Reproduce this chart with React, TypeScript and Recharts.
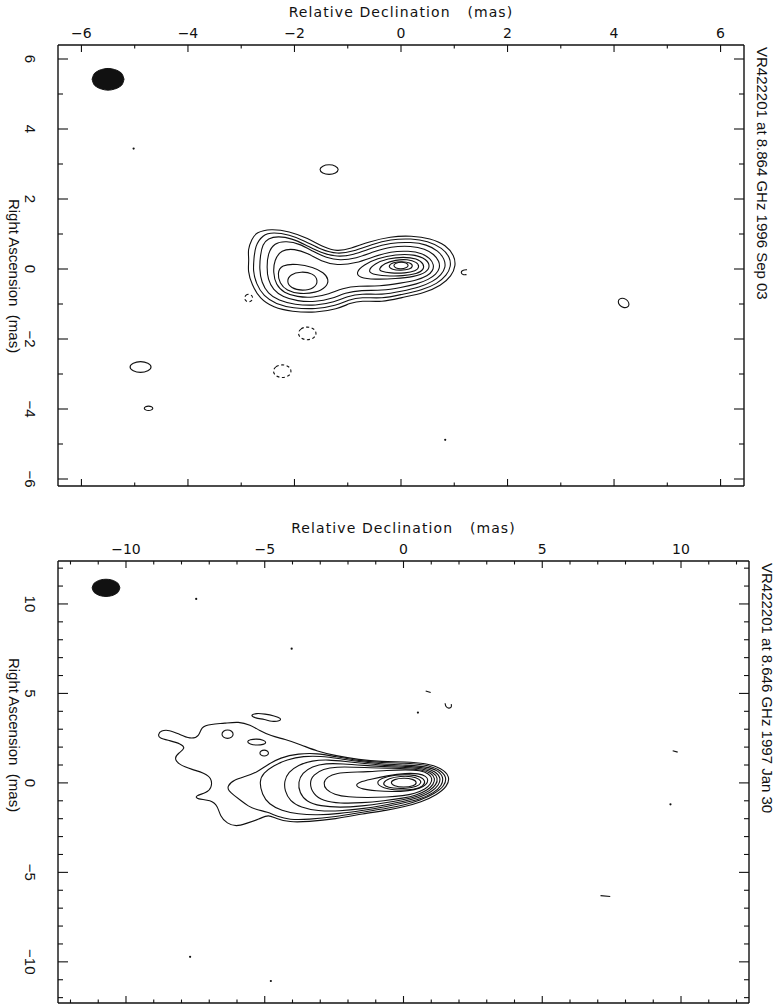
import React from "react";
import { Area, ComposedChart, Line, XAxis, YAxis } from "recharts";

type Pt = [number, number];
type Contour = { pts: Pt[]; dashed?: boolean; open?: boolean };

const INK = "#111";
const HERSHEY = "'DejaVu Sans', sans-serif";
const HELV = "'Liberation Sans', Arial, sans-serif";

// ---------- top map: 1996 Sep 03 (axes in mas) ----------
const topTitle = "VR422201 at 8.864 GHz 1996 Sep 03";
const topDecTicks = [-6, -5, -4, -3, -2, -1, 0, 1, 2, 3, 4, 5, 6];
const topRaTicks = [-6, -5, -4, -3, -2, -1, 0, 1, 2, 3, 4, 5, 6];

// beam: [dec, ra low, ra high]
const topBeam = [
  [-5.8, 5.42, 5.42], [-5.77, 5.285, 5.555], [-5.71, 5.2, 5.64], [-5.62, 5.14, 5.7],
  [-5.5, 5.11, 5.73], [-5.38, 5.14, 5.7], [-5.29, 5.2, 5.64], [-5.23, 5.285, 5.555], [-5.2, 5.42, 5.42],
];

// contours that wrap both components
const topC1: Pt[] = [
  [-2.72, 1.05], [-2.45, 1.15], [-2.1, 1.08], [-1.75, 0.88], [-1.45, 0.62], [-1.2, 0.5], [-0.95, 0.58],
  [-0.6, 0.78], [-0.2, 0.93], [0.2, 0.95], [0.55, 0.88], [0.85, 0.68], [1.0, 0.38], [1.03, 0.1],
  [0.95, -0.2], [0.75, -0.48], [0.45, -0.68], [0.0, -0.82], [-0.35, -0.95], [-0.75, -0.9], [-0.95, -0.97],
  [-1.2, -1.15], [-1.6, -1.25], [-2.05, -1.22], [-2.4, -1.1], [-2.65, -0.85], [-2.8, -0.45],
  [-2.88, -0.05], [-2.85, 0.25], [-2.88, 0.55], [-2.8, 0.85],
];
const topC2: Pt[] = [
  [-2.6, 0.98], [-2.4, 1.05], [-2.1, 0.98], [-1.8, 0.8], [-1.5, 0.55], [-1.2, 0.42], [-0.9, 0.5],
  [-0.55, 0.7], [-0.2, 0.85], [0.2, 0.87], [0.5, 0.8], [0.78, 0.6], [0.92, 0.33], [0.94, 0.08],
  [0.86, -0.18], [0.68, -0.42], [0.4, -0.6], [0.0, -0.73], [-0.35, -0.85], [-0.75, -0.8], [-0.98, -0.88],
  [-1.22, -1.05], [-1.6, -1.15], [-2.03, -1.12], [-2.35, -1.0], [-2.58, -0.78], [-2.72, -0.42],
  [-2.78, -0.05], [-2.76, 0.3], [-2.74, 0.65],
];
const topC3: Pt[] = [
  [-2.5, 0.88], [-2.3, 0.94], [-2.05, 0.87], [-1.8, 0.7], [-1.5, 0.46], [-1.2, 0.34], [-0.9, 0.4],
  [-0.55, 0.6], [-0.2, 0.75], [0.2, 0.77], [0.48, 0.7], [0.7, 0.52], [0.82, 0.28], [0.84, 0.05],
  [0.76, -0.16], [0.6, -0.36], [0.35, -0.52], [0.0, -0.64], [-0.35, -0.74], [-0.75, -0.7], [-1.0, -0.78],
  [-1.25, -0.95], [-1.6, -1.05], [-2.0, -1.02], [-2.3, -0.9], [-2.5, -0.7], [-2.62, -0.38],
  [-2.66, 0.0], [-2.64, 0.4], [-2.6, 0.7],
];
const topC4: Pt[] = [
  [-2.38, 0.75], [-2.15, 0.8], [-1.9, 0.72], [-1.65, 0.5], [-1.4, 0.32], [-1.15, 0.24], [-0.85, 0.3],
  [-0.5, 0.5], [-0.2, 0.64], [0.2, 0.66], [0.45, 0.58], [0.62, 0.42], [0.72, 0.22], [0.73, 0.02],
  [0.66, -0.15], [0.52, -0.3], [0.3, -0.43], [0.0, -0.53], [-0.35, -0.62], [-0.75, -0.6], [-1.05, -0.68],
  [-1.3, -0.85], [-1.6, -0.94], [-1.95, -0.92], [-2.22, -0.8], [-2.4, -0.6], [-2.5, -0.3],
  [-2.52, 0.05], [-2.5, 0.45],
];
const topC5: Pt[] = [
  [-2.25, 0.55], [-2.0, 0.58], [-1.75, 0.45], [-1.5, 0.22], [-1.2, 0.1], [-0.85, 0.16], [-0.5, 0.36],
  [-0.2, 0.5], [0.15, 0.52], [0.4, 0.45], [0.55, 0.3], [0.62, 0.12], [0.6, -0.05], [0.5, -0.2],
  [0.3, -0.32], [0.0, -0.4], [-0.4, -0.5], [-0.8, -0.48], [-1.1, -0.55], [-1.35, -0.72], [-1.65, -0.82],
  [-1.95, -0.8], [-2.2, -0.68], [-2.35, -0.45], [-2.4, -0.1], [-2.38, 0.25],
];
// south-east component
const topL1: Pt[] = [
  [-2.25, 0.12], [-1.95, 0.15], [-1.65, 0.05], [-1.45, -0.1], [-1.35, -0.3], [-1.4, -0.52],
  [-1.6, -0.68], [-1.9, -0.72], [-2.15, -0.62], [-2.28, -0.4], [-2.32, -0.12],
];
const topL2: Pt[] = [
  [-2.15, -0.35], [-2.08, -0.15], [-1.88, -0.07], [-1.65, -0.12], [-1.55, -0.33], [-1.62, -0.55],
  [-1.85, -0.63], [-2.07, -0.55],
];
// core
const topR1: Pt[] = [
  [-0.85, -0.1], [-0.7, 0.12], [-0.45, 0.3], [-0.1, 0.42], [0.25, 0.42], [0.48, 0.28], [0.55, 0.08],
  [0.48, -0.1], [0.25, -0.22], [-0.1, -0.28], [-0.5, -0.3], [-0.78, -0.25],
];
const topR2: Pt[] = [
  [-0.62, -0.05], [-0.5, 0.15], [-0.25, 0.3], [0.05, 0.35], [0.3, 0.3], [0.43, 0.15], [0.43, -0.02],
  [0.3, -0.14], [0.05, -0.2], [-0.3, -0.2], [-0.55, -0.15],
];
const topR3: Pt[] = [
  [-0.42, 0.0], [-0.32, 0.16], [-0.1, 0.26], [0.12, 0.28], [0.3, 0.2], [0.35, 0.06], [0.28, -0.06],
  [0.08, -0.12], [-0.2, -0.12], [-0.38, -0.07],
];
const topR4: Pt[] = [
  [-0.25, 0.08], [-0.15, 0.19], [0.02, 0.22], [0.18, 0.18], [0.23, 0.08], [0.17, -0.01], [0.0, -0.04], [-0.17, -0.02],
];
const topR5: Pt[] = [
  [-0.15, 0.1], [-0.1, 0.17], [0.0, 0.2], [0.1, 0.18], [0.15, 0.1], [0.1, 0.03], [0.0, 0.0], [-0.1, 0.02],
];
// isolated islands
const topBlobA: Pt[] = [[-1.54, 2.84], [-1.48, 2.95], [-1.35, 2.99], [-1.22, 2.95], [-1.16, 2.84], [-1.22, 2.73], [-1.35, 2.69], [-1.48, 2.73]];
const topBlobB: Pt[] = [[-5.11, -2.8], [-5.04, -2.68], [-4.89, -2.63], [-4.74, -2.68], [-4.67, -2.8], [-4.74, -2.92], [-4.89, -2.97], [-5.04, -2.92]];
const topBlobC: Pt[] = [[-4.83, -3.98], [-4.8, -3.93], [-4.74, -3.91], [-4.68, -3.93], [-4.65, -3.98], [-4.68, -4.03], [-4.74, -4.05], [-4.8, -4.03]];
const topBlobD: Pt[] = [[4.07, -0.93], [4.1, -0.84], [4.19, -0.83], [4.26, -0.9], [4.29, -1.01], [4.26, -1.1], [4.17, -1.11], [4.1, -1.04]];
const topNegA: Pt[] = [[-1.94, -1.84], [-1.89, -1.7], [-1.76, -1.64], [-1.63, -1.7], [-1.58, -1.84], [-1.63, -1.98], [-1.76, -2.04], [-1.89, -1.98]];
const topNegB: Pt[] = [[-2.41, -2.92], [-2.36, -2.78], [-2.23, -2.72], [-2.1, -2.78], [-2.05, -2.92], [-2.1, -3.06], [-2.23, -3.12], [-2.36, -3.06]];
const topNegC: Pt[] = [[-2.94, -0.83], [-2.92, -0.75], [-2.86, -0.71], [-2.8, -0.75], [-2.78, -0.83], [-2.8, -0.91], [-2.86, -0.95], [-2.92, -0.91]];
const topHook: Pt[] = [[1.24, -0.02], [1.15, -0.03], [1.12, -0.1], [1.16, -0.17], [1.23, -0.16]];
const topSpecks: Pt[] = [[-5.02, 3.44], [0.83, -4.88]];

const topContours: Contour[] = [
  { pts: topC1 }, { pts: topC2 }, { pts: topC3 }, { pts: topC4 }, { pts: topC5 },
  { pts: topL1 }, { pts: topL2 },
  { pts: topR1 }, { pts: topR2 }, { pts: topR3 }, { pts: topR4 }, { pts: topR5 },
  { pts: topBlobA }, { pts: topBlobB }, { pts: topBlobC }, { pts: topBlobD },
  { pts: topNegA, dashed: true }, { pts: topNegB, dashed: true }, { pts: topNegC, dashed: true },
  { pts: topHook, open: true },
];

// ---------- bottom map: 1997 Jan 30 ----------
const botTitle = "VR422201 at 8.646 GHz 1997 Jan 30";
const botDecTicks = [-12, -11, -10, -9, -8, -7, -6, -5, -4, -3, -2, -1, 0, 1, 2, 3, 4, 5, 6, 7, 8, 9, 10, 11, 12];
const botRaTicks = [-12, -11, -10, -9, -8, -7, -6, -5, -4, -3, -2, -1, 0, 1, 2, 3, 4, 5, 6, 7, 8, 9, 10, 11, 12];

const botBeam = [
  [-11.22, 10.9, 10.9], [-11.17, 10.69, 11.11], [-11.07, 10.56, 11.24], [-10.92, 10.46, 11.34],
  [-10.72, 10.42, 11.38], [-10.52, 10.46, 11.34], [-10.37, 10.56, 11.24], [-10.27, 10.69, 11.11], [-10.22, 10.9, 10.9],
];

const botO1: Pt[] = [
  [-8.85, 2.69], [-8.74, 2.93], [-8.44, 2.96], [-8.1, 2.74], [-7.69, 2.44], [-7.35, 2.59], [-7.3, 3.15],
  [-6.94, 3.28], [-6.44, 3.33], [-5.94, 3.43], [-5.52, 3.24], [-5.19, 2.93], [-4.78, 2.63], [-4.28, 2.44],
  [-3.69, 2.13], [-3.11, 1.76], [-2.45, 1.52], [-1.61, 1.3], [-0.78, 1.18], [0.05, 1.18], [0.8, 1.1],
  [1.38, 0.82], [1.68, 0.35], [1.58, -0.19], [1.2, -0.67], [0.63, -1.08], [0.05, -1.32], [-0.62, -1.54],
  [-1.45, -1.72], [-2.45, -2.02], [-3.44, -2.17], [-4.11, -2.2], [-4.61, -2.0], [-4.86, -1.76],
  [-5.19, -2.02], [-5.69, -2.28], [-6.02, -2.44], [-6.36, -2.28], [-6.61, -1.85], [-6.69, -1.3],
  [-6.94, -0.95], [-7.44, -0.92], [-7.52, -0.72], [-7.1, -0.56], [-6.91, -0.28], [-6.91, 0.28],
  [-7.19, 0.56], [-7.6, 0.74], [-8.1, 1.02], [-8.27, 1.39], [-8.1, 1.67], [-7.85, 1.94], [-8.02, 2.19],
  [-8.44, 2.37], [-8.8, 2.5],
];
const botO2: Pt[] = [
  [-6.36, -0.19], [-6.11, 0.18], [-5.69, 0.36], [-5.27, 0.6], [-4.94, 0.98], [-4.44, 1.42], [-3.78, 1.64],
  [-3.11, 1.66], [-2.45, 1.46], [-1.61, 1.24], [-0.78, 1.12], [0.05, 1.11], [0.75, 1.03], [1.28, 0.78],
  [1.57, 0.33], [1.48, -0.17], [1.12, -0.6], [0.6, -0.98], [0.05, -1.22], [-0.62, -1.44], [-1.45, -1.62],
  [-2.45, -1.9], [-3.44, -2.05], [-4.11, -2.06], [-4.55, -1.88], [-4.9, -1.62], [-5.3, -1.5],
  [-5.6, -1.3], [-5.85, -1.0], [-6.1, -0.7], [-6.3, -0.45],
];
const botO3: Pt[] = [
  [-5.2, 0.1], [-5.05, 0.55], [-4.7, 0.95], [-4.2, 1.3], [-3.6, 1.5], [-3.0, 1.5], [-2.3, 1.36],
  [-1.5, 1.17], [-0.7, 1.04], [0.1, 1.0], [0.8, 0.92], [1.25, 0.7], [1.45, 0.3], [1.38, -0.15],
  [1.1, -0.55], [0.6, -0.92], [0.0, -1.12], [-0.7, -1.35], [-1.5, -1.55], [-2.3, -1.72], [-3.1, -1.8],
  [-3.8, -1.75], [-4.4, -1.55], [-4.85, -1.2], [-5.1, -0.65],
];
const botO4: Pt[] = [
  [-4.3, 0.1], [-4.15, 0.6], [-3.8, 1.0], [-3.3, 1.25], [-2.7, 1.3], [-2.1, 1.2], [-1.4, 1.08],
  [-0.7, 0.97], [0.1, 0.93], [0.75, 0.86], [1.15, 0.65], [1.35, 0.28], [1.28, -0.12], [1.02, -0.5],
  [0.55, -0.85], [0.0, -1.03], [-0.7, -1.25], [-1.5, -1.45], [-2.3, -1.58], [-3.1, -1.57], [-3.7, -1.38],
  [-4.1, -1.0], [-4.28, -0.45],
];
const botO5: Pt[] = [
  [-3.8, 0.05], [-3.65, 0.55], [-3.3, 0.92], [-2.8, 1.1], [-2.2, 1.07], [-1.4, 0.98], [-0.7, 0.9],
  [0.1, 0.87], [0.7, 0.8], [1.07, 0.6], [1.25, 0.26], [1.18, -0.1], [0.95, -0.45], [0.5, -0.78],
  [0.0, -0.94], [-0.7, -1.13], [-1.5, -1.3], [-2.3, -1.38], [-3.0, -1.3], [-3.5, -1.05], [-3.75, -0.55],
];
const botO6: Pt[] = [
  [-3.4, 0.0], [-3.25, 0.45], [-2.9, 0.78], [-2.4, 0.9], [-1.8, 0.88], [-1.2, 0.85], [-0.6, 0.82],
  [0.1, 0.8], [0.65, 0.74], [1.0, 0.56], [1.15, 0.24], [1.08, -0.08], [0.88, -0.4], [0.45, -0.7],
  [0.0, -0.85], [-0.7, -1.0], [-1.5, -1.12], [-2.3, -1.15], [-2.9, -1.0], [-3.25, -0.65],
];
const botO7: Pt[] = [
  [-2.9, 0.0], [-2.75, 0.35], [-2.4, 0.55], [-1.9, 0.6], [-1.3, 0.62], [-0.6, 0.7], [0.1, 0.74],
  [0.6, 0.7], [0.92, 0.52], [1.05, 0.22], [0.98, -0.06], [0.8, -0.35], [0.4, -0.6], [0.0, -0.72],
  [-0.6, -0.8], [-1.3, -0.82], [-2.0, -0.8], [-2.5, -0.65], [-2.8, -0.38],
];
const botO8: Pt[] = [
  [-1.75, -0.15], [-1.6, 0.05], [-1.2, 0.2], [-0.6, 0.4], [0.1, 0.55], [0.55, 0.52], [0.82, 0.38],
  [0.9, 0.15], [0.82, -0.1], [0.6, -0.3], [0.2, -0.45], [-0.4, -0.5], [-1.0, -0.45], [-1.5, -0.35],
];
const botC9: Pt[] = [
  [-1.0, 0.0], [-0.8, 0.28], [-0.3, 0.45], [0.25, 0.47], [0.62, 0.36], [0.8, 0.1], [0.72, -0.18],
  [0.4, -0.38], [-0.2, -0.42], [-0.75, -0.3],
];
const botC10: Pt[] = [
  [-0.75, 0.0], [-0.55, 0.25], [-0.1, 0.38], [0.3, 0.37], [0.6, 0.2], [0.65, 0.0], [0.5, -0.2],
  [0.1, -0.32], [-0.4, -0.3], [-0.68, -0.18],
];
const botC11: Pt[] = [
  [-0.48, 0.02], [-0.35, 0.2], [0.0, 0.28], [0.35, 0.22], [0.5, 0.02], [0.38, -0.18], [0.0, -0.25], [-0.35, -0.18],
];
const botIslandA: Pt[] = [[-5.53, 3.78], [-5.3, 3.9], [-5.0, 3.85], [-4.65, 3.75], [-4.4, 3.6], [-4.45, 3.45], [-4.75, 3.42], [-5.0, 3.55], [-5.35, 3.62]];
const botIslandB: Pt[] = [[-6.56, 2.72], [-6.5, 2.9], [-6.34, 2.98], [-6.18, 2.9], [-6.12, 2.72], [-6.18, 2.54], [-6.34, 2.46], [-6.5, 2.54]];
const botIslandC: Pt[] = [[-5.65, 2.3], [-5.54, 2.42], [-5.29, 2.46], [-5.04, 2.4], [-4.93, 2.26], [-5.04, 2.14], [-5.29, 2.1], [-5.54, 2.16]];
const botIslandD: Pt[] = [[-5.19, 1.67], [-5.14, 1.8], [-5.02, 1.85], [-4.9, 1.8], [-4.85, 1.67], [-4.9, 1.54], [-5.02, 1.49], [-5.14, 1.54]];
const botHook: Pt[] = [[1.5, 4.45], [1.52, 4.25], [1.63, 4.15], [1.74, 4.22], [1.72, 4.4]];
const botDashA: Pt[] = [[0.8, 5.14], [0.98, 5.05]];
const botDashB: Pt[] = [[9.7, 1.8], [9.88, 1.72]];
const botDashC: Pt[] = [[7.1, -6.3], [7.45, -6.35]];
const botSpecks: Pt[] = [
  [-7.47, 10.28], [-4.03, 7.5], [0.52, 3.93], [9.62, -1.2], [-4.78, -11.07], [-7.69, -9.72],
];

const botContours: Contour[] = [
  { pts: botO1 }, { pts: botO2 }, { pts: botO3 }, { pts: botO4 }, { pts: botO5 }, { pts: botO6 },
  { pts: botO7 }, { pts: botO8 }, { pts: botC9 }, { pts: botC10 }, { pts: botC11 },
  { pts: botIslandA }, { pts: botIslandB }, { pts: botIslandC }, { pts: botIslandD },
  { pts: botHook, open: true }, { pts: botDashA, open: true }, { pts: botDashB, open: true }, { pts: botDashC, open: true },
];

const fmt = (v: number) => (v < 0 ? `\u2212${Math.abs(v)}` : `${v}`);
const isMajor = (v: number, every: number) => Math.abs(v % every) < 1e-6;

function xTick(side: "top" | "bottom", every: number, labelled: boolean) {
  return (p: any) => {
    const v = Number(p.payload.value);
    const major = isMajor(v, every);
    const len = major ? 7 : 3.5;
    const dir = side === "top" ? 1 : -1;
    return (
      <g>
        <line x1={p.x} x2={p.x} y1={p.y} y2={p.y + dir * len} stroke={INK} strokeWidth={1.1} />
        {labelled && major ? (
          <text x={p.x} y={p.y - 7} textAnchor="middle" fontFamily={HERSHEY} fontSize={14} fill={INK}>
            {fmt(v)}
          </text>
        ) : null}
      </g>
    );
  };
}

function yTick(side: "left" | "right", every: number, labelled: boolean) {
  return (p: any) => {
    const v = Number(p.payload.value);
    const major = isMajor(v, every);
    const len = major ? 10 : 5;
    const dir = side === "left" ? 1 : -1;
    const lx = p.x - 28;
    return (
      <g>
        <line x1={p.x} x2={p.x + dir * len} y1={p.y} y2={p.y} stroke={INK} strokeWidth={1.1} />
        {labelled && major ? (
          <text
            x={lx}
            y={p.y}
            transform={`rotate(90, ${lx}, ${p.y})`}
            textAnchor="middle"
            dominantBaseline="central"
            fontFamily={HELV}
            fontSize={15}
            fill={INK}
          >
            {fmt(v)}
          </text>
        ) : null}
      </g>
    );
  };
}

type PanelProps = {
  top: number;
  height: number;
  plot: { left: number; top: number; right: number; bottom: number };
  xDomain: [number, number];
  yDomain: [number, number];
  xTicks: number[];
  yTicks: number[];
  every: number;
  contours: Contour[];
  beam: number[][];
  specks: Pt[];
  title: string;
  raLabelY: number;
};

function Panel(props: PanelProps) {
  const W = 781;
  const { plot, height } = props;
  const axisLine = { stroke: INK, strokeWidth: 1.4 };
  const beamRows = props.beam.map(([x, lo, hi]) => ({ x, y: [lo, hi] }));
  const speckRows = props.specks.map(([x, y]) => ({ x, y }));
  return (
    <div style={{ position: "absolute", left: 0, top: props.top, width: W, height }}>
      <ComposedChart width={W} height={height} margin={{ top: 0, right: 0, bottom: 0, left: 0 }}>
        <XAxis
          xAxisId="top"
          orientation="top"
          type="number"
          dataKey="x"
          domain={props.xDomain}
          ticks={props.xTicks}
          interval={0}
          allowDataOverflow
          height={plot.top}
          axisLine={axisLine}
          tickLine={false}
          tickSize={0}
          tickMargin={0}
          tick={xTick("top", props.every, true)}
        />
        <XAxis
          xAxisId="bottom"
          orientation="bottom"
          type="number"
          dataKey="x"
          domain={props.xDomain}
          ticks={props.xTicks}
          interval={0}
          allowDataOverflow
          height={height - plot.bottom}
          axisLine={axisLine}
          tickLine={false}
          tickSize={0}
          tickMargin={0}
          tick={xTick("bottom", props.every, false)}
        />
        <YAxis
          yAxisId="left"
          orientation="left"
          type="number"
          domain={props.yDomain}
          ticks={props.yTicks}
          interval={0}
          allowDataOverflow
          width={plot.left}
          axisLine={axisLine}
          tickLine={false}
          tickSize={0}
          tickMargin={0}
          tick={yTick("left", props.every, true)}
        />
        <YAxis
          yAxisId="right"
          orientation="right"
          type="number"
          domain={props.yDomain}
          ticks={props.yTicks}
          interval={0}
          allowDataOverflow
          width={W - plot.right}
          axisLine={axisLine}
          tickLine={false}
          tickSize={0}
          tickMargin={0}
          tick={yTick("right", props.every, false)}
        />
        <Area
          data={beamRows}
          dataKey="y"
          xAxisId="top"
          yAxisId="right"
          type="monotone"
          fill={INK}
          fillOpacity={1}
          stroke={INK}
          strokeWidth={1}
          dot={false}
          activeDot={false}
          isAnimationActive={false}
        />
        {props.contours.map((c, i) => (
          <Line
            key={i}
            data={c.pts.map(([x, y]) => ({ x, y }))}
            dataKey="y"
            xAxisId="bottom"
            yAxisId="left"
            type={c.open ? "basis" : "basisClosed"}
            stroke={INK}
            strokeWidth={1.1}
            strokeDasharray={c.dashed ? "3 2.5" : undefined}
            dot={false}
            activeDot={false}
            isAnimationActive={false}
          />
        ))}
        <Line
          data={speckRows}
          dataKey="y"
          xAxisId="top"
          yAxisId="right"
          stroke="none"
          dot={{ r: 1.1, fill: INK, stroke: "none" }}
          activeDot={false}
          isAnimationActive={false}
        />
      </ComposedChart>
      <svg
        width={W}
        height={height}
        style={{ position: "absolute", left: 0, top: 0, pointerEvents: "none" }}
      >
        <text
          x={(plot.left + plot.right) / 2}
          y={plot.top - 28}
          textAnchor="middle"
          fontFamily={HERSHEY}
          fontSize={14}
          letterSpacing={1.1}
          fill={INK}
        >
          Relative Declination{"\u00a0\u00a0\u00a0"}(mas)
        </text>
        <text
          x={14}
          y={props.raLabelY}
          transform={`rotate(90, 14, ${props.raLabelY})`}
          textAnchor="middle"
          dominantBaseline="central"
          fontFamily={HELV}
          fontSize={15}
          fill={INK}
        >
          Right Ascension{"\u00a0\u00a0"}(mas)
        </text>
        <text
          x={plot.right + 18}
          y={plot.top + 2}
          transform={`rotate(90, ${plot.right + 18}, ${plot.top + 2})`}
          textAnchor="start"
          dominantBaseline="central"
          fontFamily={HELV}
          fontSize={15}
          fill={INK}
        >
          {props.title}
        </text>
      </svg>
    </div>
  );
}

export default function App() {
  return (
    <div style={{ position: "absolute", left: 0, top: 0, width: 781, height: 1008, background: "#fff" }}>
      <Panel
        top={0}
        height={500}
        plot={{ left: 58, top: 45, right: 744, bottom: 486 }}
        xDomain={[-6.44, 6.44]}
        yDomain={[-6.2, 6.4]}
        xTicks={topDecTicks}
        yTicks={topRaTicks}
        every={2}
        contours={topContours}
        beam={topBeam}
        specks={topSpecks}
        title={topTitle}
        raLabelY={276}
      />
      <Panel
        top={500}
        height={508}
        plot={{ left: 58, top: 61, right: 749, bottom: 503 }}
        xDomain={[-12.45, 12.45]}
        yDomain={[-12.3, 12.4]}
        xTicks={botDecTicks}
        yTicks={botRaTicks}
        every={5}
        contours={botContours}
        beam={botBeam}
        specks={botSpecks}
        title={botTitle}
        raLabelY={235}
      />
    </div>
  );
}
